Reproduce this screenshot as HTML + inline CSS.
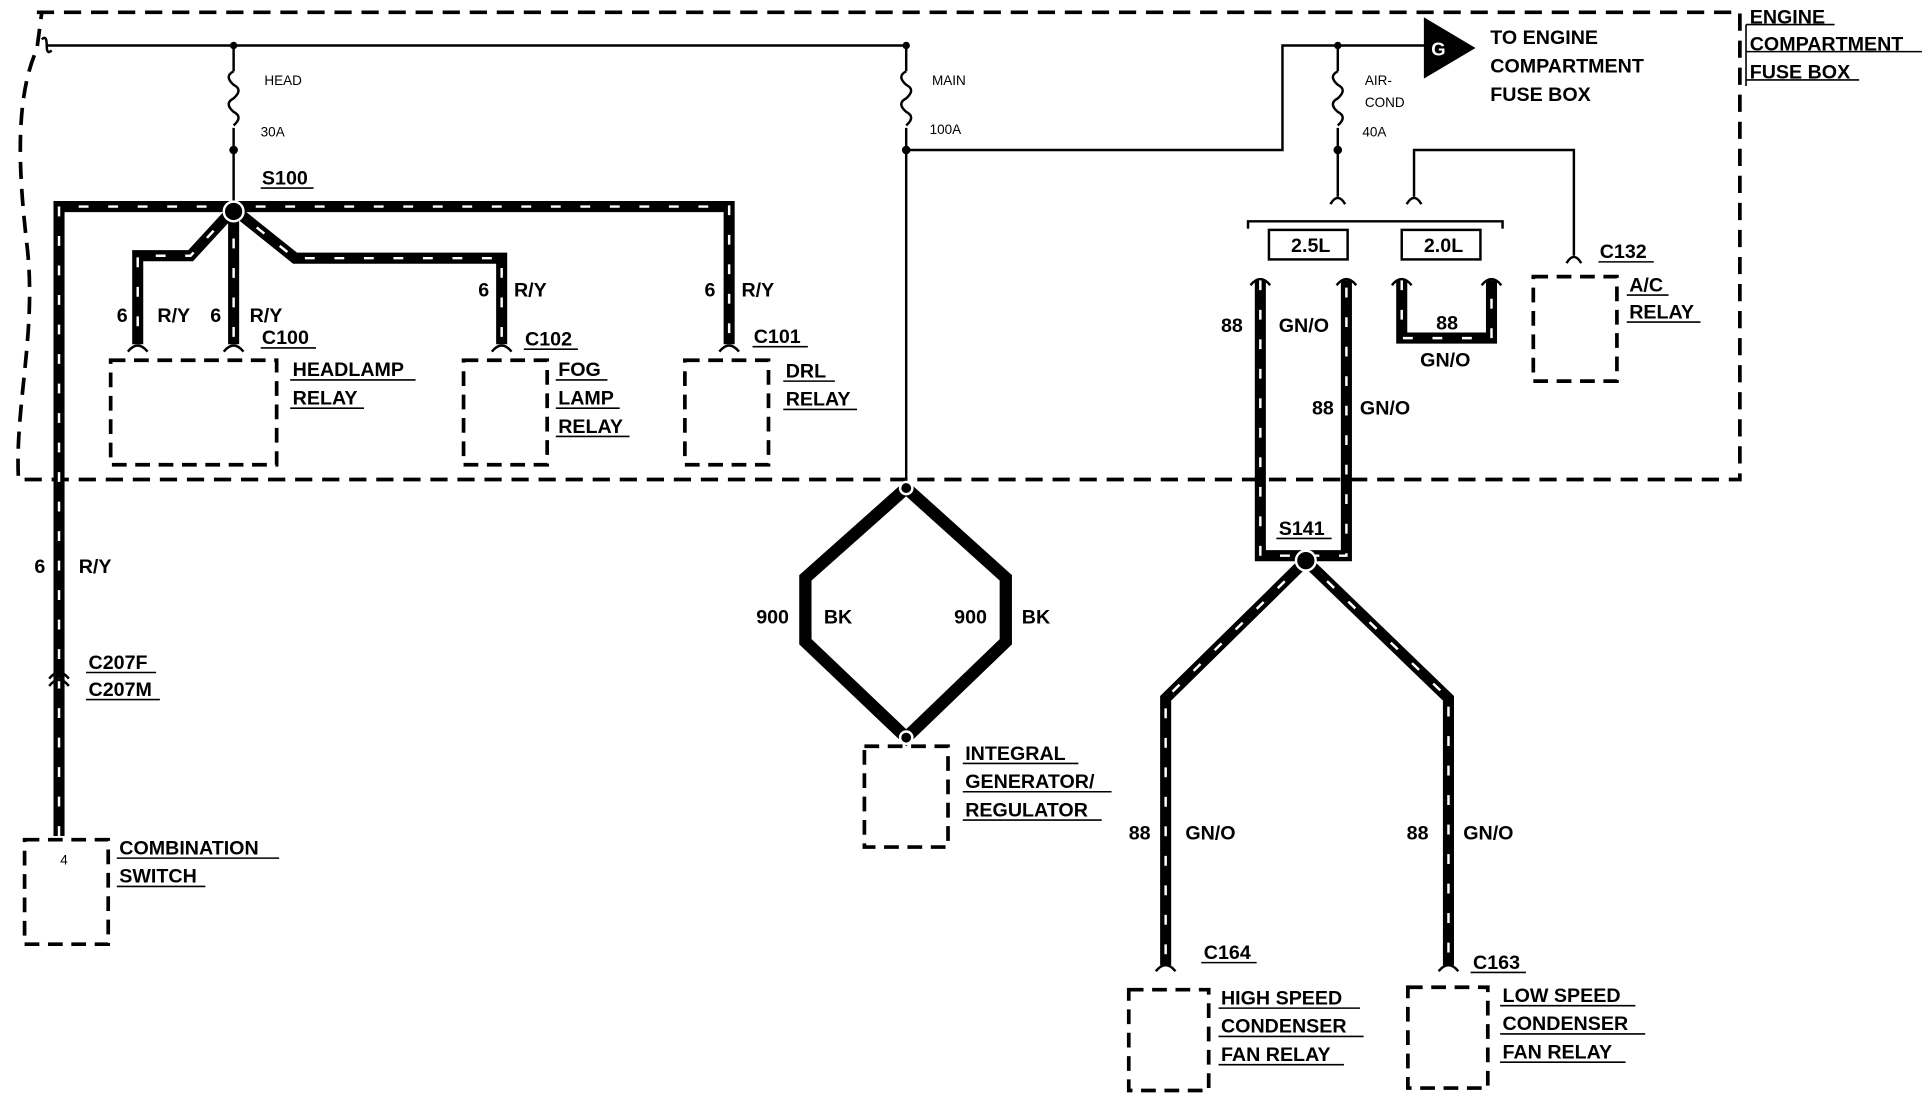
<!DOCTYPE html>
<html><head><meta charset="utf-8"><style>
html,body{margin:0;padding:0;background:#fff}
svg{display:block}
text{font-family:"Liberation Sans",Arial,sans-serif;font-weight:bold;font-size:16px;fill:#000}
.s{font-size:11px;font-weight:normal}
.u{stroke:#000;stroke-width:1.3}
</style></head><body>
<svg width="1928" height="1120" viewBox="0 0 1568 911" preserveAspectRatio="none" xmlns="http://www.w3.org/2000/svg">
<!-- boundary -->
<path d="M30,10 L1415,10 L1415,390 L15,390 C12,330 30,270 22,200 C15,140 12,80 30,40 L34,10" fill="none" stroke="#000" stroke-width="3" stroke-dasharray="14,8"/>
<!-- thin wires -->
<g fill="none" stroke="#000" stroke-width="2">
<path d="M38,37 L738,37"/>
<path d="M34,32 q4,-4 4,5 q0,8 4,4"/>
<path d="M190,37 L190,58 M190,104 L190,168"/>
<path d="M190,58 q-8,4 0,11 q8,4 0,11 q-8,4 0,11 q8,4 0,11"/>
<path d="M737,37 L737,58 M737,104 L737,395"/>
<path d="M737,58 q-8,4 0,11 q8,4 0,11 q-8,4 0,11 q8,4 0,11"/>
<path d="M737,122 L1043,122 L1043,37 L1160,37"/>
<path d="M1088,37 L1088,58 M1088,104 L1088,160"/>
<path d="M1088,58 q-8,4 0,11 q8,4 0,11 q-8,4 0,11 q8,4 0,11"/>
<path d="M1150,160 L1150,122 L1280,122 L1280,208"/>
<path d="M1082,166 q6,-10 12,0 M1144,166 q6,-10 12,0 M1274,214 q6,-10 12,0"/>
<path d="M1015,186 L1015,180 L1222,180 L1222,186"/>
</g>
<g fill="#000"><circle cx="190" cy="37" r="3"/><circle cx="190" cy="122" r="3.5"/><circle cx="737" cy="37" r="3"/><circle cx="737" cy="122" r="3.5"/><circle cx="1088" cy="37" r="3"/><circle cx="1088" cy="122" r="3.5"/></g>
<path d="M1158,14 L1200,39 L1158,64 Z" fill="#000"/>
<text x="1164" y="45" style="fill:#fff;font-size:15px">G</text>
<!-- thick wires -->
<g fill="none" stroke-linejoin="miter">
<g stroke="#000" stroke-width="9">
<path d="M48,680 L48,168 L593,168 L593,280"/>
<path d="M190,170 L155,208 L112,208 L112,280"/>
<path d="M190,170 L190,280"/>
<path d="M190,170 L240,210 L408,210 L408,280"/>
<path d="M1025,228 L1025,452 L1095,452 L1095,228"/>
<path d="M1140,228 L1140,275 L1213,275 L1213,228"/>
<path d="M1062,456 L948,568 L948,785"/>
<path d="M1062,456 L1178,568 L1178,785"/>
<path d="M737,397 L655,470 L655,522 L737,600 L818,522 L818,470 Z" stroke-width="10"/>
</g>
<g stroke="#fff" stroke-width="2" stroke-dasharray="8,16">
<path d="M48,680 L48,168 L593,168 L593,280"/>
<path d="M190,170 L155,208 L112,208 L112,280"/>
<path d="M190,170 L190,280"/>
<path d="M190,170 L240,210 L408,210 L408,280"/>
<path d="M1025,228 L1025,452 L1095,452 L1095,228"/>
<path d="M1140,228 L1140,275 L1213,275 L1213,228"/>
<path d="M1062,456 L948,568 L948,785"/>
<path d="M1062,456 L1178,568 L1178,785"/>
</g>
</g>
<g fill="#000" stroke="#fff" stroke-width="2"><circle cx="190" cy="172" r="8"/><circle cx="1062" cy="456" r="8"/><circle cx="737" cy="397" r="5"/><circle cx="737" cy="600" r="5"/></g>
<!-- connector arcs -->
<g fill="none" stroke="#000" stroke-width="2">
<path d="M104,286 q8,-10 16,0 M182,286 q8,-10 16,0 M400,286 q8,-10 16,0 M585,286 q8,-10 16,0"/>
<path d="M1017,232 q8,-10 16,0 M1087,232 q8,-10 16,0 M1132,232 q8,-10 16,0 M1205,232 q8,-10 16,0"/>
<path d="M940,790 q8,-10 16,0 M1170,790 q8,-10 16,0 M40,552 q8,-10 16,0 M40,558 q8,-10 16,0"/>
</g>
<!-- dashed boxes -->
<g fill="none" stroke="#000" stroke-width="3" stroke-dasharray="12,7">
<rect x="90" y="293" width="135" height="85"/>
<rect x="377" y="293" width="68" height="85"/>
<rect x="557" y="293" width="68" height="85"/>
<rect x="20" y="683" width="68" height="85"/>
<rect x="1247" y="225" width="68" height="85"/>
<rect x="703" y="607" width="68" height="82"/>
<rect x="918" y="805" width="65" height="82"/>
<rect x="1145" y="803" width="65" height="82"/>
</g>
<rect x="1032" y="187" width="64" height="24" fill="none" stroke="#000" stroke-width="2"/>
<rect x="1140" y="187" width="64" height="24" fill="none" stroke="#000" stroke-width="2"/>
<text x="1050" y="205">2.5L</text><text x="1158" y="205">2.0L</text>
<!-- labels -->
<text class="s" x="215" y="69">HEAD</text><text class="s" x="212" y="111">30A</text>
<text class="s" x="758" y="69">MAIN</text><text class="s" x="756" y="109">100A</text>
<text class="s" x="1110" y="69">AIR-</text><text class="s" x="1110" y="87">COND</text><text class="s" x="1108" y="111">40A</text>
<text x="1212" y="36">TO ENGINE</text><text x="1212" y="59">COMPARTMENT</text><text x="1212" y="82">FUSE BOX</text>
<text x="1423" y="19">ENGINE</text><text x="1423" y="41">COMPARTMENT</text><text x="1423" y="64">FUSE BOX</text>
<path class="u" d="M1420,20 H1492 M1420,42 H1563 M1420,65 H1512 M1420,20 V70"/>
<text x="213" y="150">S100</text><path class="u" d="M212,153 H255"/>
<text x="95" y="262">6</text><text x="128" y="262">R/Y</text><text x="171" y="262">6</text><text x="203" y="262">R/Y</text>
<text x="213" y="280">C100</text><path class="u" d="M212,283 H257"/>
<text x="389" y="241">6</text><text x="418" y="241">R/Y</text>
<text x="427" y="281">C102</text><path class="u" d="M426,284 H470"/>
<text x="573" y="241">6</text><text x="603" y="241">R/Y</text>
<text x="613" y="279">C101</text><path class="u" d="M612,282 H657"/>
<text x="238" y="306">HEADLAMP</text><text x="238" y="329">RELAY</text><path class="u" d="M236,309 H338 M236,332 H296"/>
<text x="454" y="306">FOG</text><text x="454" y="329">LAMP</text><text x="454" y="352">RELAY</text><path class="u" d="M452,309 H494 M452,332 H504 M452,355 H512"/>
<text x="639" y="307">DRL</text><text x="639" y="330">RELAY</text><path class="u" d="M637,310 H679 M637,333 H697"/>
<text x="28" y="466">6</text><text x="64" y="466">R/Y</text>
<text x="72" y="544">C207F</text><text x="72" y="566">C207M</text><path class="u" d="M70,547 H127 M70,569 H130"/>
<text class="s" x="49" y="703">4</text>
<text x="97" y="695">COMBINATION</text><text x="97" y="718">SWITCH</text><path class="u" d="M95,698 H227 M95,721 H167"/>
<text x="615" y="507">900</text><text x="670" y="507">BK</text><text x="776" y="507">900</text><text x="831" y="507">BK</text>
<text x="785" y="618">INTEGRAL</text><text x="785" y="641">GENERATOR/</text><text x="785" y="664">REGULATOR</text><path class="u" d="M783,621 H877 M783,644 H904 M783,667 H896"/>
<text x="993" y="270">88</text><text x="1040" y="270">GN/O</text>
<text x="1067" y="337">88</text><text x="1106" y="337">GN/O</text>
<text x="1168" y="268">88</text><text x="1155" y="298">GN/O</text>
<text x="1301" y="210">C132</text><path class="u" d="M1300,213 H1345"/>
<text x="1325" y="237">A/C</text><text x="1325" y="259">RELAY</text><path class="u" d="M1323,240 H1357 M1323,262 H1383"/>
<text x="1040" y="435">S141</text><path class="u" d="M1038,438 H1083"/>
<text x="918" y="683">88</text><text x="964" y="683">GN/O</text>
<text x="1144" y="683">88</text><text x="1190" y="683">GN/O</text>
<text x="979" y="780">C164</text><path class="u" d="M977,783 H1022"/>
<text x="1198" y="788">C163</text><path class="u" d="M1196,791 H1241"/>
<text x="993" y="817">HIGH SPEED</text><text x="993" y="840">CONDENSER</text><text x="993" y="863">FAN RELAY</text><path class="u" d="M991,820 H1106 M991,843 H1109 M991,866 H1093"/>
<text x="1222" y="815">LOW SPEED</text><text x="1222" y="838">CONDENSER</text><text x="1222" y="861">FAN RELAY</text><path class="u" d="M1220,818 H1330 M1220,841 H1338 M1220,864 H1322"/>
</svg>
</body></html>
